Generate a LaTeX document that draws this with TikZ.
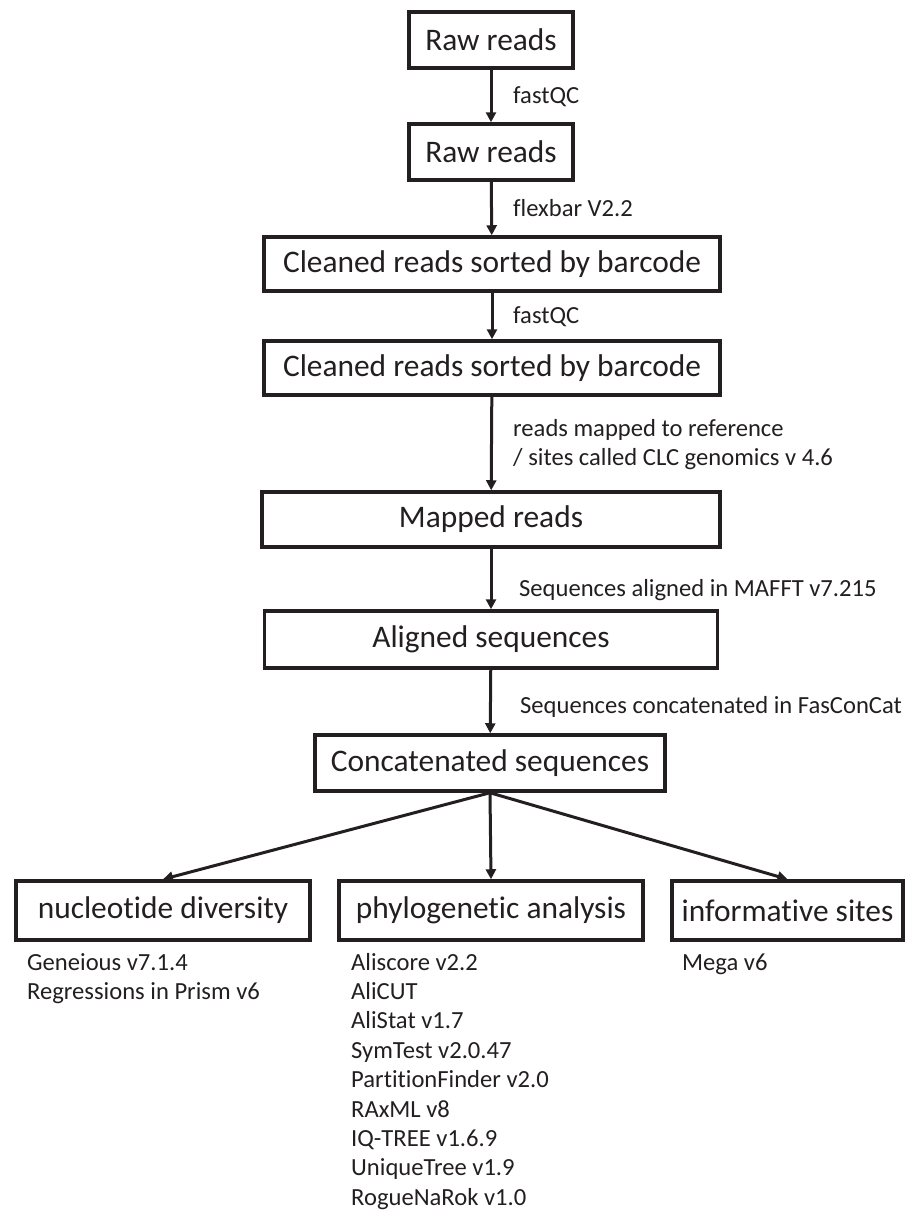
\documentclass[tikz,border=0pt]{standalone}
\usepackage{fontspec}
\setmainfont{Carlito}[Ligatures={NoCommon}]
\usetikzlibrary{arrows.meta}
\definecolor{ink}{HTML}{231F20}

\begin{document}
\begin{tikzpicture}[x=1pt,y=-1pt,
  box/.style={draw=ink,line width=3.5pt,inner sep=0pt,text=ink,
    font=\fontsize{31.4}{36}\selectfont},
  lbl/.style={anchor=base west,inner sep=0pt,text=ink,
    font=\fontsize{24.6}{29.4}\selectfont},
  arr/.style={draw=ink,line width=3pt,-{Triangle[length=10pt,width=10pt]}}]

\useasboundingbox (0,0) rectangle (909,1211);

\node[box,minimum width=164pt,minimum height=56pt] (raw1)    at (491,40)      {Raw reads};
\node[box,minimum width=164pt,minimum height=56pt] (raw2)    at (491,152)     {Raw reads};
\node[box,minimum width=456pt,minimum height=54pt] (clean1)  at (492,264)     {Cleaned reads sorted by barcode};
\node[box,minimum width=456pt,minimum height=54pt] (clean2)  at (492,368)     {Cleaned reads sorted by barcode};
\node[box,minimum width=458pt,minimum height=55pt] (mapped)  at (491,519.5)   {Mapped reads};
\node[box,minimum width=453pt,minimum height=57pt] (aligned) at (491,639.5)   {Aligned sequences};
\node[box,minimum width=350pt,minimum height=56pt] (concat)  at (490,763)     {Concatenated sequences};
\node[box,minimum width=294pt,minimum height=59pt] (nucdiv)  at (163,910.5)   {nucleotide diversity};
\node[box,minimum width=304pt,minimum height=59pt] (phylo)   at (491,910.5)   {phylogenetic analysis};
\node[box,minimum width=231pt,minimum height=59pt] (inform)  at (787.5,910.5) {informative sites};

\draw[arr] (raw1) -- (raw2);
\draw[arr] (raw2) -- (clean1);
\draw[arr] (clean1) -- (clean2);
\draw[arr] (clean2) -- (mapped);
\draw[arr] (mapped) -- (aligned);
\draw[arr] (aligned) -- (concat);
\draw[arr] (concat.south) -- (nucdiv.north);
\draw[arr] (concat.south) -- (phylo.north);
\draw[arr] (concat.south) -- (inform.north);

\node[lbl] (qc1)   at (513,103) {fastQC};
\node[lbl] (flex)  at (513,216) {flexbar V2.2};
\node[lbl] (qc2)   at (513,323) {fastQC};
\node[lbl] (map1)  at (513,436) {reads mapped to reference};
\node[lbl] (map2)  at (513,465) {/ sites called CLC genomics v 4.6};
\node[lbl] (mafft) at (519,596) {Sequences aligned in MAFFT v7.215};
\node[lbl] (fcc)   at (520,713) {Sequences concatenated in FasConCat};

\node[lbl] (gen1) at (27,970) {Geneious v7.1.4};
\node[lbl] (gen2) at (27,999) {Regressions in Prism v6};
\node[lbl] (mega) at (682,970) {Mega v6};

\foreach \t [count=\i from 0] in {Aliscore v2.2,AliCUT,AliStat v1.7,SymTest v2.0.47,
    PartitionFinder v2.0,RAxML v8,IQ-TREE v1.6.9,UniqueTree v1.9,RogueNaRok v1.0}
  \node[lbl] (tool\i) at (351,970+29.4*\i) {\t};

\end{tikzpicture}
\end{document}
